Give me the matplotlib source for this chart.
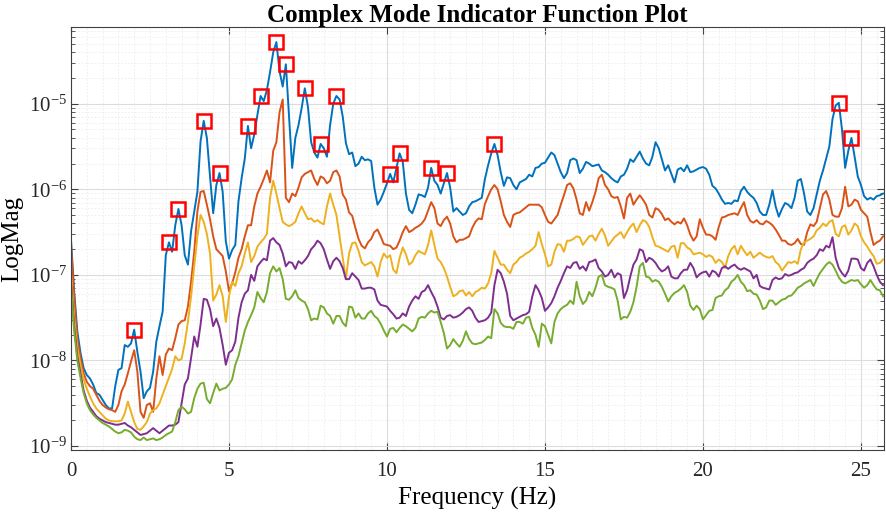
import numpy as np
import matplotlib.pyplot as plt
from matplotlib.ticker import MultipleLocator, FixedLocator, NullFormatter

plt.rcParams['font.family'] = ['Liberation Serif', 'DejaVu Serif']
plt.rcParams['mathtext.fontset'] = 'custom'
plt.rcParams['mathtext.rm'] = 'Liberation Serif'
plt.rcParams['mathtext.it'] = 'Liberation Serif:italic'

# frequency lines, 0.1 Hz spacing
freq = np.round(np.arange(258) * 0.1, 1)

# CMIF singular values, stored as log10 of magnitude
sv1 = [
    -6.59, -7.19, -7.66, -7.91, -8.09, -8.17, -8.21, -8.28, -8.38, -8.40,
    -8.46, -8.52, -8.56, -8.56, -8.30, -8.11, -8.09, -7.82, -7.84, -7.80,
    -7.64, -7.90, -8.13, -8.44, -8.36, -8.32, -8.13, -7.78, -7.60, -7.43,
    -6.77, -6.62, -6.73, -6.42, -6.23, -6.42, -6.77, -6.88, -6.49, -6.26,
    -6.03, -5.44, -5.20, -5.40, -5.85, -6.28, -5.95, -5.81, -6.03, -6.61,
    -6.81, -6.71, -6.65, -6.14, -5.87, -5.64, -5.26, -5.52, -5.36, -5.13,
    -4.91, -4.97, -4.84, -4.63, -4.40, -4.28, -4.62, -4.80, -4.54, -5.15,
    -5.75, -5.40, -5.25, -5.05, -4.82, -5.04, -5.45, -5.57, -5.63, -5.47,
    -5.52, -5.62, -5.25, -5.00, -4.91, -4.95, -5.15, -5.46, -5.59, -5.57,
    -5.73, -5.70, -5.62, -5.66, -5.65, -5.67, -5.98, -6.18, -6.12, -6.03,
    -5.93, -5.82, -5.92, -5.75, -5.58, -5.68, -6.05, -6.24, -6.28, -6.18,
    -6.06, -6.07, -6.09, -5.98, -5.75, -5.90, -5.95, -6.05, -5.93, -5.81,
    -5.98, -6.26, -6.22, -6.26, -6.30, -6.28, -6.20, -6.15, -6.14, -6.12,
    -6.10, -5.88, -5.72, -5.58, -5.47, -5.60, -5.80, -5.96, -5.86, -5.87,
    -5.95, -6.00, -5.92, -5.90, -5.88, -5.83, -5.85, -5.75, -5.74, -5.70,
    -5.69, -5.63, -5.57, -5.60, -5.70, -5.80, -5.87, -5.81, -5.66, -5.64,
    -5.66, -5.81, -5.76, -5.68, -5.70, -5.73, -5.72, -5.71, -5.78, -5.80,
    -5.83, -5.87, -5.90, -5.92, -5.85, -5.83, -5.76, -5.65, -5.68, -5.62,
    -5.56, -5.64, -5.70, -5.72, -5.62, -5.45, -5.52, -5.65, -5.78, -5.72,
    -5.82, -5.92, -5.77, -5.75, -5.79, -5.72, -5.80, -5.79, -5.77, -5.75,
    -5.74, -5.76, -5.83, -5.96, -5.99, -6.05, -6.12, -6.17, -6.16, -6.17,
    -6.13, -6.14, -6.02, -5.97, -6.03, -6.07, -6.10, -6.16, -6.26, -6.30,
    -6.30, -6.18, -6.01, -6.20, -6.32, -6.23, -6.16, -6.18, -6.22, -6.10,
    -5.90, -5.88, -6.05, -6.26, -6.30, -6.22, -6.06, -5.90, -5.78, -5.64,
    -5.50, -5.18, -5.02, -4.99, -5.30, -5.75, -5.55, -5.40, -5.62, -5.85,
    -5.95, -6.08, -6.12, -6.10, -6.12, -6.08, -6.07, -6.05,
]
sv2 = [
    -6.65, -7.25, -7.75, -7.97, -8.15, -8.25, -8.30, -8.33, -8.40, -8.47,
    -8.52, -8.55, -8.57, -8.58, -8.60, -8.52, -8.36, -8.28, -8.15, -8.01,
    -7.88, -8.13, -8.60, -8.67, -8.52, -8.50, -8.60, -8.21, -7.95, -8.17,
    -7.93, -7.86, -7.88, -7.74, -7.58, -7.54, -7.53, -7.37, -7.08, -6.73,
    -6.26, -6.03, -6.02, -6.18, -6.35, -6.55, -6.70, -6.74, -6.78, -6.96,
    -7.19, -7.10, -6.97, -6.80, -6.70, -6.55, -6.42, -6.42, -6.20, -6.05,
    -5.97, -5.88, -5.78, -5.92, -5.55, -5.45, -5.10, -4.95, -6.10, -6.15,
    -6.05, -6.08, -5.98, -5.86, -5.82, -5.80, -5.78, -5.88, -5.95, -5.85,
    -5.87, -5.93, -5.90, -5.80, -5.78, -5.85, -6.06, -6.12, -6.27, -6.31,
    -6.45, -6.58, -6.66, -6.69, -6.62, -6.58, -6.50, -6.47, -6.55, -6.64,
    -6.65, -6.66, -6.70, -6.68, -6.60, -6.50, -6.43, -6.50, -6.48, -6.45,
    -6.43, -6.40, -6.35, -6.25, -6.15, -6.22, -6.40, -6.43, -6.36, -6.32,
    -6.40, -6.55, -6.62, -6.59, -6.59, -6.57, -6.55, -6.45, -6.38, -6.34,
    -6.35, -6.17, -6.08, -6.00, -5.95, -6.00, -6.14, -6.30, -6.38, -6.44,
    -6.30, -6.28, -6.27, -6.24, -6.21, -6.18, -6.18, -6.18, -6.18, -6.21,
    -6.30, -6.38, -6.40, -6.35, -6.30, -6.18, -6.07, -5.95, -5.93, -5.99,
    -6.12, -6.28, -6.30, -6.15, -6.25, -6.15, -6.03, -5.87, -5.83, -5.95,
    -6.00, -6.08, -6.10, -6.09, -6.20, -6.34, -6.10, -6.05, -6.18, -6.12,
    -6.07, -6.12, -6.18, -6.30, -6.33, -6.22, -6.24, -6.29, -6.36, -6.34,
    -6.38, -6.41, -6.38, -6.40, -6.34, -6.42, -6.53, -6.60, -6.55, -6.35,
    -6.45, -6.53, -6.53, -6.55, -6.59, -6.44, -6.33, -6.32, -6.30, -6.29,
    -6.28, -6.30, -6.22, -6.15, -6.30, -6.37, -6.39, -6.36, -6.40, -6.41,
    -6.37, -6.39, -6.42, -6.47, -6.53, -6.60, -6.60, -6.64, -6.65, -6.63,
    -6.58, -6.64, -6.65, -6.50, -6.41, -6.43, -6.38, -6.22, -6.06, -6.02,
    -6.12, -6.30, -6.32, -6.32, -6.22, -5.97, -6.20, -6.18, -6.12, -6.14,
    -6.24, -6.28, -6.32, -6.50, -6.65, -6.62, -6.60, -6.55,
]
sv3 = [
    -6.98, -7.50, -7.85, -8.05, -8.22, -8.33, -8.42, -8.50, -8.56, -8.60,
    -8.64, -8.68, -8.70, -8.71, -8.71, -8.71, -8.70, -8.62, -8.48, -8.60,
    -8.72, -8.80, -8.81, -8.77, -8.72, -8.62, -8.58, -8.56, -8.50, -8.40,
    -8.30, -8.20, -8.10, -7.95, -8.00, -7.98, -7.80, -7.55, -7.25, -6.90,
    -6.55, -6.30, -6.38, -6.52, -6.75, -7.30, -7.23, -7.12, -7.25, -7.55,
    -7.25, -7.08, -7.13, -6.98, -6.90, -6.75, -6.62, -6.85, -6.78, -6.67,
    -6.62, -6.58, -6.52, -6.10, -5.90, -6.05, -6.22, -6.38, -6.41, -6.43,
    -6.41, -6.38, -6.28, -6.20, -6.28, -6.35, -6.34, -6.38, -6.36, -6.39,
    -6.41, -6.20, -6.05, -6.18, -6.30, -6.55, -6.80, -7.05, -6.75, -6.63,
    -6.62, -6.72, -6.85, -6.89, -6.87, -6.85, -6.90, -7.02, -6.85, -6.75,
    -6.80, -6.77, -6.94, -6.98, -6.80, -6.68, -6.76, -6.88, -6.85, -6.77,
    -6.72, -6.74, -6.76, -6.65, -6.48, -6.65, -6.81, -6.85, -6.92, -7.02,
    -7.14, -7.25, -7.23, -7.19, -7.18, -7.24, -7.20, -7.25, -7.20, -7.18,
    -7.15, -7.16, -7.10, -6.98, -6.72, -6.80, -6.88, -6.88, -6.94, -6.98,
    -6.88, -6.85, -6.80, -6.78, -6.75, -6.73, -6.70, -6.66, -6.50, -6.64,
    -6.76, -6.90, -6.88, -6.73, -6.64, -6.65, -6.73, -6.60, -6.60, -6.58,
    -6.55, -6.56, -6.65, -6.60, -6.55, -6.54, -6.60, -6.52, -6.46, -6.54,
    -6.66, -6.61, -6.56, -6.53, -6.50, -6.57, -6.50, -6.44, -6.40, -6.50,
    -6.42, -6.36, -6.38, -6.44, -6.56, -6.66, -6.67, -6.69, -6.71, -6.73,
    -6.67, -6.66, -6.80, -6.63, -6.63, -6.68, -6.70, -6.76, -6.75, -6.74,
    -6.76, -6.79, -6.77, -6.79, -6.86, -6.82, -6.85, -6.92, -6.78, -6.70,
    -6.66, -6.76, -6.66, -6.72, -6.77, -6.73, -6.80, -6.77, -6.74, -6.77,
    -6.79, -6.80, -6.78, -6.85, -6.88, -6.95, -6.90, -6.85, -6.86, -6.84,
    -6.87, -6.70, -6.62, -6.60, -6.58, -6.55, -6.48, -6.45, -6.40, -6.43,
    -6.38, -6.36, -6.52, -6.55, -6.44, -6.42, -6.53, -6.48, -6.40, -6.43,
    -6.55, -6.62, -6.67, -6.73, -6.78, -6.87, -6.86, -6.82,
]
sv4 = [
    -7.08, -7.60, -7.95, -8.15, -8.35, -8.47, -8.55, -8.60, -8.65, -8.68,
    -8.70, -8.72, -8.73, -8.74, -8.75, -8.75, -8.74, -8.73, -8.76, -8.78,
    -8.81, -8.84, -8.87, -8.86, -8.85, -8.82, -8.79, -8.82, -8.85, -8.82,
    -8.79, -8.76, -8.76, -8.75, -8.72, -8.50, -8.28, -8.21, -7.97, -7.72,
    -7.84, -7.58, -7.28, -7.29, -7.40, -7.60, -7.51, -7.62, -7.82, -8.05,
    -7.91, -7.88, -7.78, -7.50, -7.32, -7.22, -7.18, -7.00, -7.07, -6.90,
    -6.85, -6.81, -6.83, -6.60, -6.57, -6.62, -6.65, -6.75, -6.90, -6.85,
    -6.86, -6.93, -6.84, -6.87, -6.83, -6.78, -6.70, -6.66, -6.60, -6.63,
    -6.70, -6.82, -6.93, -6.84, -6.80, -6.84, -6.92, -7.05, -7.05, -6.98,
    -7.02, -7.06, -7.16, -7.16, -7.15, -7.15, -7.17, -7.30, -7.35, -7.36,
    -7.37, -7.42, -7.46, -7.51, -7.50, -7.45, -7.48, -7.37, -7.30, -7.25,
    -7.28, -7.20, -7.18, -7.12, -7.20, -7.27, -7.37, -7.50, -7.52, -7.48,
    -7.47, -7.50, -7.49, -7.47, -7.44, -7.40, -7.38, -7.42, -7.50, -7.55,
    -7.54, -7.53, -7.50, -7.44, -7.12, -6.94, -6.98, -7.08, -7.22, -7.48,
    -7.53, -7.51, -7.49, -7.47, -7.46, -7.43, -7.25, -7.12, -7.18, -7.27,
    -7.42, -7.38, -7.33, -7.25, -7.15, -7.07, -6.98, -6.90, -6.92, -6.86,
    -6.85, -6.93, -6.90, -6.95, -6.85, -6.84, -6.82, -6.92, -6.96, -7.02,
    -7.00, -6.94, -7.03, -6.98, -7.00, -7.27, -7.18, -7.02, -6.88, -6.82,
    -6.70, -6.72, -6.85, -6.80, -6.82, -6.86, -6.92, -6.96, -6.94, -6.90,
    -7.02, -7.04, -7.04, -6.98, -6.94, -6.94, -6.86, -6.92, -7.03, -6.99,
    -6.97, -6.96, -7.02, -6.95, -6.97, -7.02, -6.92, -6.90, -6.93, -6.90,
    -6.88, -6.92, -6.94, -6.92, -6.94, -6.96, -7.04, -7.00, -7.13, -7.15,
    -7.16, -7.17, -7.06, -7.03, -7.05, -7.04, -6.99, -7.01, -7.00, -6.98,
    -6.97, -6.94, -6.92, -6.86, -6.83, -6.81, -6.77, -6.70, -6.72, -6.66,
    -6.68, -6.56, -6.80, -6.92, -6.98, -7.02, -6.95, -6.81, -6.81, -6.82,
    -6.92, -6.95, -6.86, -6.82, -6.90, -7.00, -7.08, -7.12,
]
sv5 = [
    -7.12, -7.65, -8.00, -8.20, -8.38, -8.50, -8.58, -8.63, -8.67, -8.70,
    -8.73, -8.75, -8.77, -8.80, -8.83, -8.85, -8.84, -8.81, -8.82, -8.84,
    -8.89, -8.92, -8.93, -8.90, -8.93, -8.92, -8.91, -8.93, -8.92, -8.90,
    -8.87, -8.85, -8.83, -8.72, -8.58, -8.54, -8.57, -8.62, -8.60, -8.44,
    -8.33, -8.27, -8.26, -8.45, -8.50, -8.38, -8.27, -8.35, -8.33, -8.32,
    -8.28, -8.22, -8.05, -7.95, -7.80, -7.65, -7.55, -7.47, -7.38, -7.20,
    -7.27, -7.32, -7.20, -6.98, -6.90, -6.96, -6.92, -7.05, -7.28, -7.29,
    -7.25, -7.18, -7.27, -7.30, -7.32, -7.40, -7.53, -7.51, -7.52, -7.36,
    -7.38, -7.45, -7.48, -7.57, -7.48, -7.48, -7.56, -7.60, -7.37, -7.38,
    -7.50, -7.45, -7.51, -7.51, -7.45, -7.42, -7.48, -7.51, -7.57, -7.65,
    -7.72, -7.63, -7.62, -7.67, -7.62, -7.58, -7.60, -7.63, -7.66, -7.62,
    -7.51, -7.49, -7.50, -7.45, -7.42, -7.44, -7.43, -7.55, -7.68, -7.86,
    -7.82, -7.75, -7.80, -7.84, -7.77, -7.66, -7.75, -7.80, -7.81, -7.80,
    -7.79, -7.76, -7.72, -7.74, -7.40, -7.45, -7.56, -7.60, -7.61, -7.61,
    -7.63, -7.55, -7.55, -7.57, -7.50, -7.49, -7.62, -7.70, -7.84, -7.57,
    -7.60, -7.70, -7.80, -7.55, -7.45, -7.40, -7.37, -7.35, -7.30, -7.34,
    -7.08, -7.25, -7.34, -7.30, -7.20, -7.25, -7.15, -7.02, -7.00, -7.12,
    -7.14, -7.15, -7.17, -7.30, -7.52, -7.49, -7.50, -7.43, -7.32, -7.14,
    -6.90, -6.86, -7.02, -7.03, -7.08, -7.06, -7.08, -7.14, -7.22, -7.31,
    -7.25, -7.21, -7.19, -7.16, -7.12, -7.20, -7.36, -7.41, -7.36, -7.40,
    -7.52, -7.47, -7.42, -7.41, -7.27, -7.25, -7.24, -7.18, -7.15, -7.08,
    -7.05, -7.00, -7.08, -7.12, -7.19, -7.18, -7.22, -7.23, -7.30, -7.40,
    -7.38, -7.30, -7.30, -7.35, -7.32, -7.29, -7.28, -7.25, -7.24, -7.20,
    -7.15, -7.13, -7.10, -7.08, -7.06, -7.13, -7.05, -6.98, -6.93, -6.88,
    -6.85, -6.88, -6.95, -7.03, -7.08, -7.10, -7.08, -7.06, -7.07, -7.06,
    -7.11, -7.15, -7.12, -7.06, -7.12, -7.17, -7.18, -7.25,
]

# picked modes on the first singular value (Hz)
peak_freqs = [2.0, 3.1, 3.4, 4.2, 4.7, 5.6, 6.0, 6.5, 6.8, 7.4,
              7.9, 8.4, 10.1, 10.4, 11.4, 11.9, 13.4, 24.3, 24.7]

line_colors = ['#0072BD', '#D95319', '#EDB120', '#7E2F8E', '#77AC30']

fig = plt.figure(figsize=(8.86, 5.12), dpi=100)
ax = fig.add_axes([71 / 886, 62 / 512, 813 / 886, 423 / 512])

for sv, c in zip([sv1, sv2, sv3, sv4, sv5], line_colors):
    ax.plot(freq, 10.0 ** np.array(sv), color=c, lw=1.4)

mag1 = 10.0 ** np.array(sv1)
pk = [int(np.argmin(np.abs(freq - f))) for f in peak_freqs]
ax.plot(freq[pk], mag1[pk], 's', mfc='none', mec='#ff0000', ms=9.5, mew=1.8)

ax.set_yscale('log')
ax.set_xlim(0, 25.73)
ax.set_ylim(9.0e-10, 7.87e-5)

ax.xaxis.set_major_locator(MultipleLocator(5))
ax.xaxis.set_minor_locator(MultipleLocator(0.5))
# only the decades inside the view get ticks and labels
decades = [1e-9, 1e-8, 1e-7, 1e-6, 1e-5]
ax.yaxis.set_major_locator(FixedLocator(decades))
minor_y = [m * d for d in [1e-10] + decades for m in range(2, 10)]
minor_y = [v for v in minor_y if 9.0e-10 <= v <= 7.87e-5]
ax.yaxis.set_minor_locator(FixedLocator(minor_y))
ax.yaxis.set_minor_formatter(NullFormatter())

ax.grid(which='major', color='#dcdcdc', lw=0.8)
ax.grid(which='minor', color='#ececec', lw=0.6, ls=(0, (2, 2)))
ax.set_axisbelow(True)

ax.tick_params(which='both', direction='in', top=True, right=True,
               color='#404040', labelcolor='#262626')
ax.tick_params(which='major', length=5, width=0.8, labelsize=15)
ax.tick_params(axis='y', which='minor', length=3, width=0.6)
ax.tick_params(axis='x', which='minor', length=0)
ax.tick_params(axis='x', which='major', pad=9)
ax.tick_params(axis='y', which='major', pad=3)

for sp in ax.spines.values():
    sp.set_color('#404040')
    sp.set_linewidth(0.8)

ax.set_title('Complex Mode Indicator Function Plot', fontsize=18,
             fontweight='bold', pad=3)
ax.set_xlabel('Frequency (Hz)', fontsize=18, labelpad=4)
ax.set_ylabel('LogMag', fontsize=18, labelpad=4)

fig.savefig('out.png', dpi=100)
